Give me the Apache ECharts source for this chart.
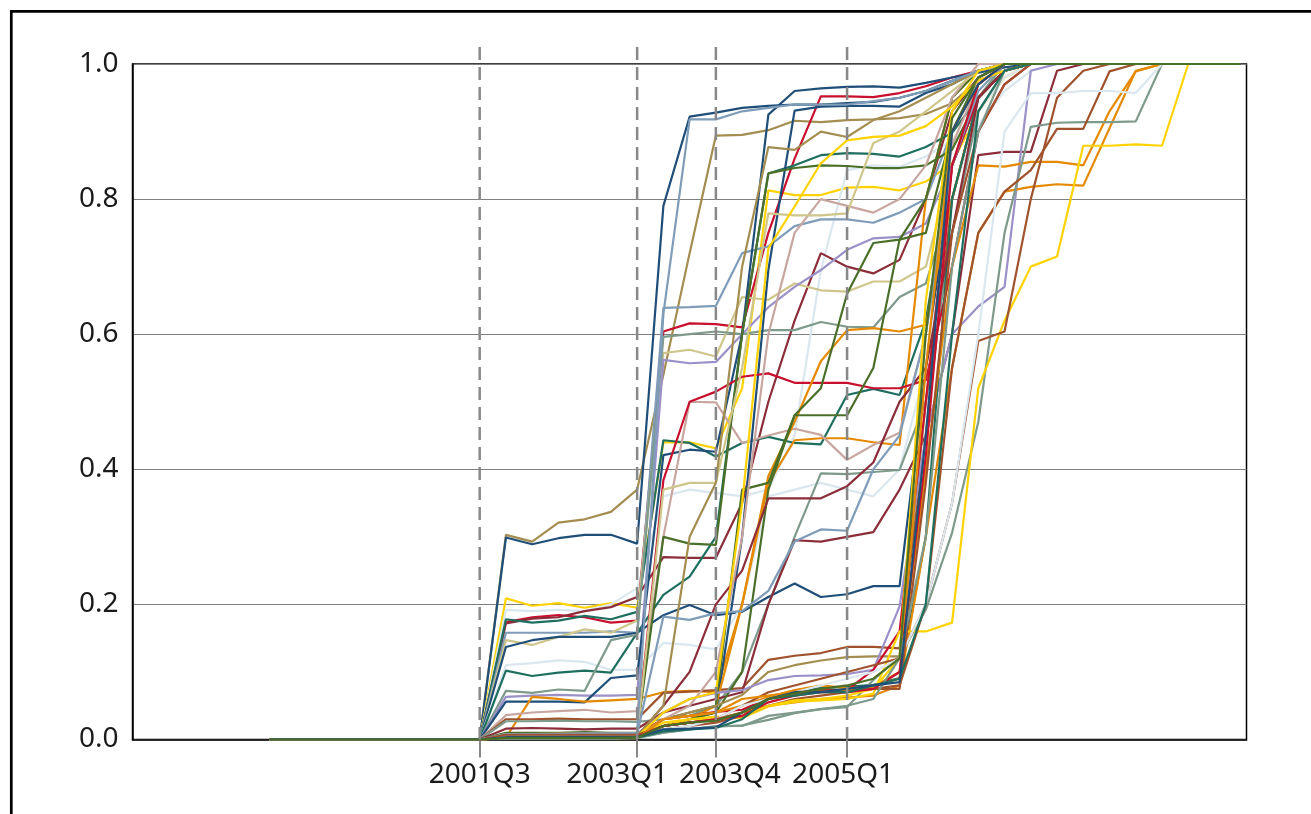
<!DOCTYPE html>
<html>
<head>
<meta charset="utf-8">
<script src="https://cdn.jsdelivr.net/npm/echarts@6/dist/echarts.min.js"></script>
<style>
html, body { margin: 0; padding: 0; background: #fff; }
#main { width: 1311px; height: 814px; }
</style>
</head>
<body>
<div id="main"></div>
<script>
var myChart = echarts.init(document.getElementById('main'));

// quarters on the x axis (index 0 = 1999Q3)
var quarters = [
    '1999Q3', '1999Q4', '2000Q1', '2000Q2', '2000Q3', '2000Q4', '2001Q1', '2001Q2',
    '2001Q3', '2001Q4', '2002Q1', '2002Q2', '2002Q3', '2002Q4', '2003Q1', '2003Q2',
    '2003Q3', '2003Q4', '2004Q1', '2004Q2', '2004Q3', '2004Q4', '2005Q1', '2005Q2',
    '2005Q3', '2005Q4', '2006Q1', '2006Q2', '2006Q3', '2006Q4', '2007Q1', '2007Q2',
    '2007Q3', '2007Q4', '2008Q1', '2008Q2', '2008Q3', '2008Q4'
];
var markedQuarters = ['2001Q3', '2003Q1', '2003Q4', '2005Q1'];
var firstListed = '2001Q3';   // every series is 0 before this quarter
var lastValue = 1.0;          // and stays at 1.0 after its last listed quarter

// colours
var cDarkBlue = '#1f4e79', cSlate = '#7f9cb8', cOlive = '#a38d50', cCrimson = '#c8102e',
    cYellow = '#ffd200', cTeal = '#1f6f5f', cGreen = '#4a6f28', cSienna = '#a0522d',
    cOrange = '#e58a00', cPale = '#dbe7ef', cLavender = '#9b90c8', cMaroon = '#8c2d3a',
    cRose = '#c8a6a0', cKhaki = '#cfc68c', cGrayGreen = '#7d9a8b';

// series values from 2001Q3 onwards
var s01 = [0, .303, .293, .321, .326, .337, .37, .54, .72, .894, .895, .902, .916, .914, .917, .918, .92, .926, .942, .976, .99];
var s02 = [0, .299, .289, .298, .303, .303, .29, .79, .922, .928, .935, .938, .94, .94, .942, .944, .95, .96, .975, .99];
var s03 = [0, .209, .198, .202, .195, .202, .195, .44, .44, .431, .52, .813, .806, .806, .817, .818, .813, .826, .853, .93, .98];
var s04 = [0, .192, .19, .192, .19, .2, .224, .36, .37, .365, .36, .37, .45, .695, .843, .85, .848, .863, .887, .909, .96, .99];
var s05 = [0, .174, .181, .184, .181, .173, .176, .604, .616, .615, .61, .75, .86, .952, .952, .951, .957, .967, .98, .99];
var s06 = [0, .172, .179, .181, .19, .196, .211, .27, .269, .269, .35, .5, .62, .72, .7, .69, .71, .8, .93, .98];
var s07 = [0, .178, .173, .176, .183, .178, .189, .443, .439, .419, .439, .448, .439, .437, .51, .519, .51, .62, .85, .95, .99];
var s08 = [0, .158, .158, .158, .158, .16, .158, .639, .64, .642, .72, .73, .76, .77, .77, .765, .78, .8, .9, .98];
var s09 = [0, .147, .14, .152, .163, .158, .176, .572, .577, .567, .655, .651, .675, .665, .663, .678, .678, .7, .85, .95];
var s10 = [0, .137, .147, .152, .152, .152, .158, .184, .199, .184, .189, .211, .231, .211, .215, .227, .227, .55, .85, .95, .99];
var s11 = [0, .11, .113, .117, .115, .103, .103, .143, .14, .133, .2, .36, .37, .38, .37, .36, .4, .55, .8, .93, .98];
var s12 = [0, .102, .094, .099, .102, .099, .158, .214, .241, .3, .6, .838, .85, .865, .868, .867, .863, .877, .898, .95, .99];
var s13 = [0, .072, .069, .074, .072, .147, .155, .596, .6, .604, .6, .606, .606, .618, .611, .61, .655, .675, .8, .95];
var s14 = [0, .063, .065, .066, .065, .065, .066, .562, .557, .559, .6, .64, .67, .695, .725, .742, .744, .764, .85, .95, .99];
var s15 = [0, .056, .056, .056, .055, .091, .095, .421, .429, .426, .6, .925, .96, .964, .966, .967, .965, .972, .98, .987, .995];
var s16 = [0, .003, .063, .06, .056, .058, .06, .07, .072, .07, .2, .38, .443, .446, .446, .44, .436, .8, .95, .99];
var s17 = [0, .036, .04, .042, .044, .04, .042, .3, .5, .499, .439, .45, .46, .451, .414, .436, .454, .6, .88, .97];
var s18 = [0, .03, .03, .031, .03, .03, .03, .069, .071, .073, .076, .118, .124, .128, .137, .137, .135, .45, .8, .95, .99];
var s19 = [0, .027, .027, .028, .027, .027, .026, .03, .035, .05, .1, .2, .3, .394, .393, .396, .399, .5, .75, .93, .99];
var s20 = [0, .016, .017, .016, .015, .016, .016, .04, .05, .06, .07, .2, .295, .293, .3, .307, .37, .45, .6, .865, .87, .87, .99];
var s21 = [0, .005, .005, .005, .006, .006, .006, .02, .03, .04, .3, .695, .931, .937, .938, .938, .937, .957, .97, .99];
var s22 = [0, .005, .005, .006, .006, .006, .008, .384, .5, .515, .537, .542, .528, .528, .528, .52, .52, .532, .7, .9, .97];
var s23 = [0, .004, .005, .005, .005, .005, .005, .02, .03, .05, .2, .39, .47, .56, .606, .609, .604, .614, .8, .95, .99];
var s24 = [0, .006, .006, .006, .007, .007, .007, .03, .04, .05, .37, .38, .48, .48, .48, .55, .74, .75, .9, .98];
var s25 = [0, .01, .01, .01, .011, .01, .01, .3, .29, .288, .6, .838, .846, .85, .849, .846, .846, .85, .873, .95, .99];
var s26 = [0, .003, .003, .003, .004, .004, .004, .02, .03, .04, .1, .37, .48, .52, .66, .735, .74, .8, .95, .99];
var s27 = [0, .008, .008, .009, .009, .009, .009, .03, .04, .05, .066, .1, .11, .117, .122, .123, .123, .5, .85, .97];
var s28 = [0, .005, .005, .005, .006, .006, .008, .04, .06, .069, .073, .088, .094, .095, .097, .103, .197, .45, .6, .641, .67, .99];
var s29 = [0, .004, .004, .004, .004, .004, .005, .02, .025, .029, .034, .063, .071, .076, .078, .081, .091, .3, .8, .95, .99];
var s30 = [0, .006, .006, .007, .007, .007, .007, .03, .035, .041, .044, .061, .068, .073, .073, .103, .16, .5, .85, .95, .99];
var s31 = [0, .005, .005, .005, .005, .005, .006, .03, .035, .04, .05, .063, .073, .08, .076, .078, .1, .4, .7, .85, .848, .855, .855, .85, .93, .989];
var s32 = [0, .003, .003, .003, .003, .003, .004, .02, .025, .03, .04, .05, .055, .06, .062, .065, .08, .3, .55, .75, .811, .818, .822, .82, .905, .99];
var s33 = [0, .002, .002, .002, .002, .002, .003, .01, .015, .019, .021, .029, .039, .045, .048, .088, .123, .192, .306, .47, .75, .907, .913, .914, .914, .915];
var s34 = [0, .002, .002, .002, .002, .002, .003, .02, .03, .034, .032, .049, .056, .058, .06, .068, .16, .16, .173, .52, .62, .7, .715, .879, .879, .881, .879];
var s35 = [0, .004, .004, .004, .004, .004, .005, .02, .025, .03, .05, .07, .08, .09, .1, .11, .12, .2, .35, .59, .604, .8, .95, .99];
var s36 = [0, .003, .003, .003, .003, .003, .004, .015, .02, .025, .035, .05, .06, .065, .07, .075, .08, .2, .55, .75, .811, .843, .904, .904, .989];
var s37 = [0, .003, .003, .003, .003, .003, .004, .015, .02, .03, .05, .06, .07, .08, .09, .1, .12, .2, .35, .6, .9, .957, .957, .96, .96, .957];
var s38 = [0, .004, .004, .004, .004, .004, .005, .05, .1, .2, .25, .357, .357, .357, .375, .41, .5, .55, .75, .95, .99];
var s39 = [0, .002, .002, .002, .002, .002, .003, .03, .05, .1, .3, .6, .75, .8, .79, .78, .8, .85, .95];
var s40 = [0, .005, .005, .005, .005, .005, .006, .37, .38, .38, .55, .779, .776, .776, .779, .883, .9, .93, .96, .99];
var s41 = [0, .004, .004, .004, .004, .004, .005, .05, .3, .38, .7, .877, .873, .9, .892, .917, .93, .95, .97, .99];
var s42 = [0, .006, .006, .006, .006, .006, .008, .182, .177, .187, .19, .22, .293, .311, .309, .4, .45, .6, .85, .96];
var s43 = [0, .008, .008, .008, .009, .009, .01, .63, .918, .918, .93, .935, .94, .94, .94, .945, .95, .96, .975, .99];
var s44 = [0, .003, .003, .003, .003, .003, .004, .015, .016, .018, .04, .06, .07, .07, .075, .08, .085, .45, .9, .97];
var s45 = [0, .003, .003, .003, .003, .003, .003, .012, .015, .017, .03, .06, .065, .07, .07, .08, .09, .2, .6, .93, .99];
var s46 = [0, .002, .002, .002, .002, .002, .003, .025, .03, .03, .035, .05, .058, .06, .065, .075, .12, .65, .93, .99];
var s47 = [0, .007, .007, .007, .007, .007, .007, .02, .025, .03, .04, .06, .07, .072, .072, .075, .075, .38, .75, .9, .97];
var s48 = [0, .002, .002, .002, .002, .002, .002, .03, .035, .04, .06, .065, .07, .07, .072, .08, .09, .55, .9, .97];
var s49 = [0, .003, .003, .003, .003, .003, .004, .02, .025, .03, .035, .055, .065, .07, .07, .075, .1, .42, .85, .97];
var s50 = [0, .001, .001, .001, .001, .001, .002, .01, .015, .02, .02, .035, .04, .045, .05, .06, .12, .3, .7, .9, .99];
var s51 = [0, .003, .003, .003, .003, .003, .004, .04, .06, .07, .35, .727, .789, .853, .887, .892, .894, .908, .937, .976, .99];
var s52 = [0, .002, .002, .002, .002, .002, .003, .02, .025, .028, .04, .06, .068, .075, .08, .09, .12, .6, .92, .98];

// drawing order: the last entries sit on top of the shared zero line
var lines = [
    [s01, cOlive], [s02, cDarkBlue], [s03, cYellow], [s04, cPale], [s05, cCrimson],
    [s06, cMaroon], [s07, cTeal], [s08, cSlate], [s09, cKhaki], [s10, cDarkBlue],
    [s11, cPale], [s12, cTeal], [s13, cGrayGreen], [s14, cLavender], [s15, cDarkBlue],
    [s16, cOrange], [s17, cRose], [s18, cSienna], [s19, cGrayGreen], [s20, cMaroon],
    [s21, cDarkBlue], [s22, cCrimson], [s23, cOrange], [s24, cGreen], [s25, cGreen],
    [s26, cGreen], [s27, cOlive], [s28, cLavender], [s29, cTeal], [s30, cCrimson],
    [s31, cOrange], [s32, cOrange], [s33, cGrayGreen], [s34, cYellow], [s35, cSienna],
    [s36, cSienna], [s37, cPale], [s38, cMaroon], [s39, cRose], [s40, cKhaki],
    [s41, cOlive], [s42, cSlate], [s43, cSlate], [s46, cYellow], [s51, cYellow],
    [s47, cSienna], [s48, cOrange], [s49, cCrimson], [s50, cGrayGreen],
    [s45, cTeal], [s44, cDarkBlue], [s52, cGreen]
];

var start = quarters.indexOf(firstListed);
var toData = function (vals) {
    var out = [];
    for (var i = 0; i < quarters.length; i++) {
        var v;
        if (i < start) v = 0;
        else if (i - start < vals.length) v = vals[i - start];
        else v = lastValue;
        out.push([i, v]);
    }
    return out;
};

var markedIdx = markedQuarters.map(function (q) { return quarters.indexOf(q); });

var labelFont = '"Noto Sans", "DejaVu Sans", sans-serif';
var labelText = { fontSize: 28, fontFamily: labelFont, color: '#1a1a1a' };
// the two close labels are nudged apart, as in the source
var labelRich = {
    n: labelText,
    l: Object.assign({ padding: [0, 40, 0, 0] }, labelText),
    r: Object.assign({ padding: [0, 0, 0, 28] }, labelText),
    s: Object.assign({ padding: [0, 8, 0, 0] }, labelText)
};
var labelNudge = { '2001Q3': 'n', '2003Q1': 'l', '2003Q4': 'r', '2005Q1': 's' };

var option = {
    animation: false,
    backgroundColor: '#fff',
    grid: {
        left: 132.5, right: 64.5, top: 64, bottom: 74.5,
        show: true, borderColor: '#000', borderWidth: 1.5
    },
    xAxis: {
        type: 'value',
        min: -5.23,
        max: 37.22,
        splitLine: { show: false },
        axisLine: { show: true, onZero: false, lineStyle: { color: '#000', width: 1.5 } },
        axisTick: {
            show: true, customValues: markedIdx, length: 18,
            lineStyle: { color: '#888', width: 2 }
        },
        axisLabel: {
            customValues: markedIdx,
            margin: 22,
            fontSize: 28,
            fontFamily: labelFont,
            color: '#1a1a1a',
            rich: labelRich,
            formatter: function (v) {
                var q = quarters[Math.round(v)];
                return '{' + (labelNudge[q] || 'n') + '|' + q + '}';
            }
        }
    },
    yAxis: {
        type: 'value',
        min: 0,
        max: 1,
        interval: 0.2,
        axisLine: { show: true, onZero: false, lineStyle: { color: '#000', width: 1.5 } },
        axisTick: { show: false },
        splitLine: { lineStyle: { color: '#808080', width: 1.2 } },
        axisLabel: {
            margin: 14,
            fontSize: 28,
            fontFamily: labelFont,
            color: '#1a1a1a',
            formatter: function (v) { return v.toFixed(1); }
        }
    },
    series: lines.map(function (l) {
        return {
            type: 'line',
            showSymbol: false,
            silent: true,
            data: toData(l[0]),
            lineStyle: { color: l[1], width: 2.2 },
            itemStyle: { color: l[1] }
        };
    })
};

myChart.setOption(option);

// dashed markers at the labelled quarters, reaching a little above the plot
var yTop = myChart.convertToPixel({ yAxisIndex: 0 }, 1);
var yBottom = myChart.convertToPixel({ yAxisIndex: 0 }, 0);
var graphics = markedIdx.map(function (idx) {
    var x = myChart.convertToPixel({ xAxisIndex: 0 }, idx);
    return {
        type: 'line',
        z: 100,
        shape: { x1: x, y1: yTop - 17, x2: x, y2: yBottom },
        style: { stroke: '#888', lineWidth: 2.5, lineDash: [13, 7] }
    };
});
// outer frame
graphics.push({
    type: 'rect',
    z: 100,
    shape: { x: 11.3, y: 11.3, width: 1400, height: 900 },
    style: { fill: null, stroke: '#000', lineWidth: 2.7 }
});
myChart.setOption({ graphic: graphics });
</script>
</body>
</html>
